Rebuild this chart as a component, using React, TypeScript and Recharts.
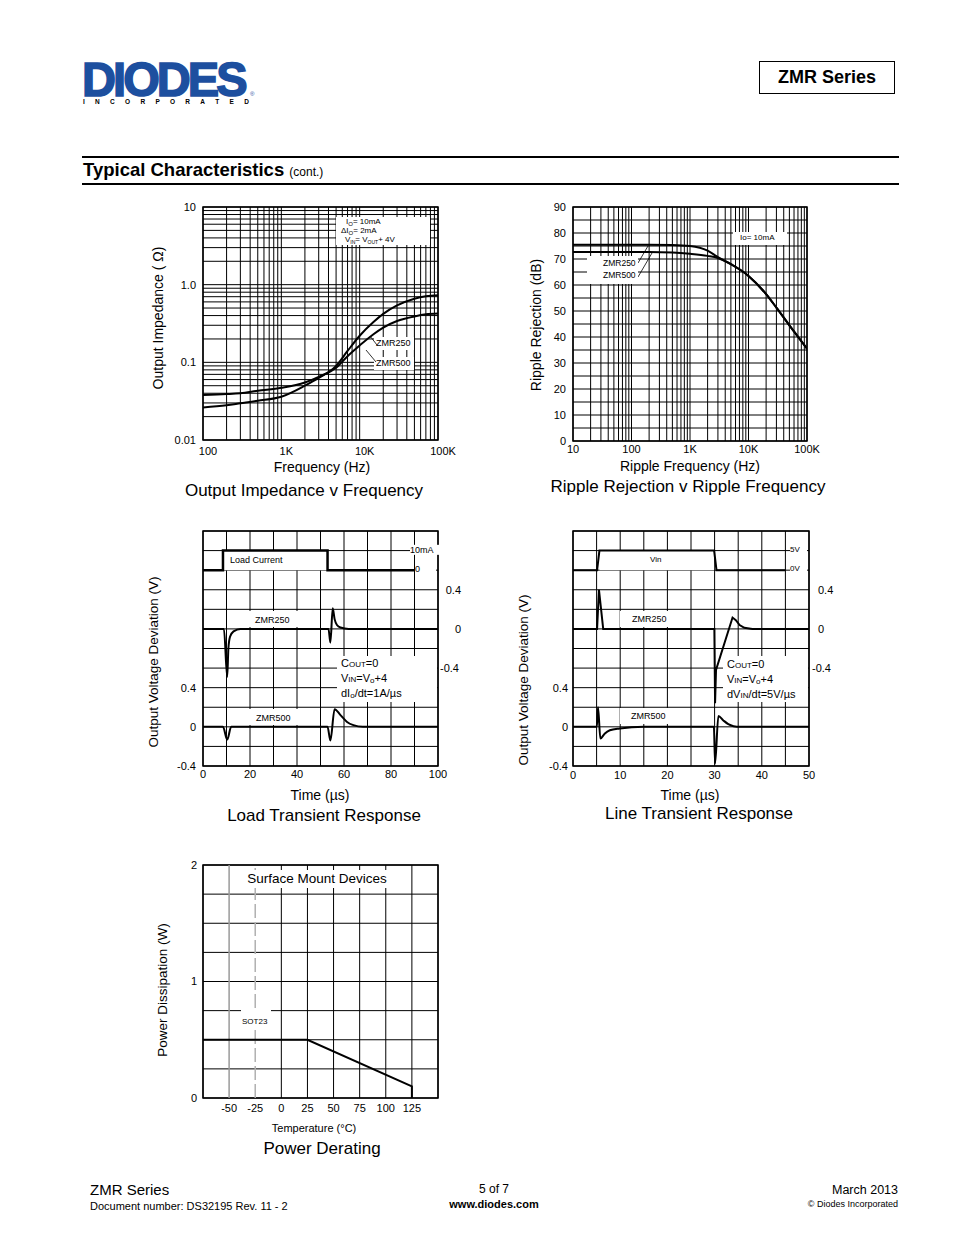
import React from 'react';
import { LineChart, Line, XAxis, YAxis, CartesianGrid, ReferenceArea, ReferenceLine } from 'recharts';

const FONT = '"Liberation Sans", Arial, Helvetica, sans-serif';

// Output impedance v frequency
const impFreq = [100, 200, 300, 500, 1000, 2000, 3000, 5000, 7000, 10000, 15000, 20000, 30000, 50000, 70000, 100000];
const impZmr250 = [0.0263, 0.028, 0.0297, 0.032, 0.036, 0.05, 0.063, 0.09, 0.14, 0.22, 0.33, 0.42, 0.54, 0.66, 0.71, 0.73];
const impZmr500 = [0.038, 0.039, 0.04, 0.043, 0.047, 0.055, 0.065, 0.085, 0.12, 0.165, 0.23, 0.28, 0.34, 0.39, 0.415, 0.425];
const impXTicks = [100, 1000, 10000, 100000];
const impXLabels = ['100', '1K', '10K', '100K'];
const impYTicks = [0.01, 0.1, 1, 10];
const impYLabels = ['0.01', '0.1', '1.0', '10'];

// Ripple rejection v ripple frequency
const ripFreq = [10, 20, 50, 100, 200, 500, 1000, 2000, 3000, 5000, 10000, 20000, 30000, 50000, 100000];
const ripZmr250 = [75.5, 75.5, 75.5, 75.5, 75.5, 75.4, 75, 73.2, 70.7, 68, 63.5, 56.5, 51.3, 44.5, 35.5];
const ripZmr500 = [72.7, 72.7, 72.7, 72.7, 72.7, 72.5, 72, 71.2, 70.4, 68, 63.5, 56.5, 51.3, 44.5, 35.5];
const ripXTicks = [10, 100, 1000, 10000, 100000];
const ripXLabels = ['10', '100', '1K', '10K', '100K'];
const ripYTicks = [0, 10, 20, 30, 40, 50, 60, 70, 80, 90];
const ripGridY = [0, 5, 10, 15, 20, 25, 30, 35, 40, 45, 50, 55, 60, 65, 70, 75, 80, 85, 90];

// Load transient response
const loadTime = [0, 8.5, 8.5, 53, 53, 90];
const loadCurrent = [0, 0, 10, 10, 0, 0];
const loadT250 = [0, 8.9, 10.3, 10.8, 11.5, 13, 16, 53.4, 54.2, 55.2, 56, 57, 58.5, 62, 100];
const loadV250 = [0, 0, -0.49, -0.2, -0.08, -0.025, 0, 0, -0.14, 0.21, 0.1, 0.04, 0.014, 0, 0];
const loadT500 = [0, 8.5, 10.3, 12, 53, 54.2, 56, 58.5, 61.3, 64, 68, 100];
const loadV500 = [0, 0, -0.13, 0, 0, -0.14, 0.18, 0.12, 0.05, 0.017, 0, 0];
const loadXTicks = [0, 20, 40, 60, 80, 100];
const loadCols = [0, 10, 20, 30, 40, 50, 60, 70, 80, 90, 100];

// Line transient response
const lineTime = [0, 5.1, 5.6, 29.9, 30.4, 45];
const lineVin = [0, 0, 5, 5, 0, 0];
const lineT250 = [0, 5.1, 5.5, 6.4, 29.95, 30.1, 30.3, 33.8, 34.5, 35.3, 36.3, 38, 50];
const lineV250 = [0, 0, 0.4, 0, 0, -0.76, -0.42, 0.116, 0.09, 0.04, 0.012, 0, 0];
const lineT500 = [0, 5.05, 5.3, 5.8, 6.7, 7.8, 9.9, 15, 29.85, 30.1, 30.8, 31.8, 32.9, 34, 35.4, 50];
const lineV500 = [0, 0, 0.2, -0.12, -0.07, -0.035, -0.017, 0, 0, -0.375, 0.11, 0.068, 0.027, 0.007, 0, 0];
const lineXTicks = [0, 10, 20, 30, 40, 50];
const lineCols = [0, 5, 10, 15, 20, 25, 30, 35, 40, 45, 50];

// shared transient grid rows (left axis units) and deviation ticks
const rowVals = [-0.4, -0.2, 0, 0.2, 0.4, 0.6, 0.8, 1, 1.2, 1.4, 1.6, 1.8, 2];
const devTicks = [-0.4, 0, 0.4];

// Power derating
const pdTemp = [-75, 25, 125, 125];
const pdSot23 = [0.5, 0.5, 0.1, 0];
const pdXTicks = [-50, -25, 0, 25, 50, 75, 100, 125];
const pdYTicks = [0, 1, 2];
const pdGridX = [-75, 0, 25, 50, 75, 100, 125, 150];
const pdGridY = [0, 0.25, 0.5, 0.75, 1, 1.25, 1.5, 1.75, 2];

const logGrid = (from: number, to: number) => {
  const out: number[] = [];
  for (let d = from; d < to; d *= 10) for (let k = 1; k < 10; k++) out.push(+(d * k).toPrecision(3));
  out.push(to);
  return out;
};
const impGridX = logGrid(100, 100000);
const impGridY = logGrid(0.01, 10);
const ripGridX = logGrid(10, 100000);

const pts = (xs: number[], ys: number[]) => xs.map((x, i) => ({ x, y: ys[i] }));

const lbl = (ticks: number[], labels: string[] | undefined, v: number) => {
  if (!labels) return String(v);
  const i = ticks.indexOf(v);
  return i >= 0 ? labels[i] : String(v);
};

const xTick = (ticks: number[], labels?: string[], dx = 0) => (p: any) => (
  <text x={p.x + dx} y={p.y} dy="0.71em" textAnchor="middle" fontSize={11} fontFamily={FONT} fill="#000">
    {lbl(ticks, labels, p.payload.value)}
  </text>
);

const yTick = (ticks: number[], labels?: string[]) => (p: any) => (
  <text x={p.x} y={p.y} dy="0.36em" textAnchor="end" fontSize={11} fontFamily={FONT} fill="#000">
    {lbl(ticks, labels, p.payload.value)}
  </text>
);

const rightTick = (anchor: 'start' | 'end', dx: number, negDx: number) => (p: any) => (
  <text x={p.x + (p.payload.value < 0 ? negDx : dx)} y={p.y} dy="0.36em" textAnchor={anchor} fontSize={11} fontFamily={FONT} fill="#000">
    {p.payload.value}
  </text>
);

const Txt = ({ x, y, size = 11, bold = false, anchor = 'middle', rotate = false, bg = false, pad = 0, children }: any) => {
  const tx = anchor === 'middle' ? '-50%' : anchor === 'end' ? '-100%' : '0';
  return (
    <div
      style={{
        position: 'absolute',
        left: x,
        top: y,
        transform: `translate(${tx}, -50%)${rotate ? ' rotate(-90deg)' : ''}`,
        fontSize: size,
        fontWeight: bold ? 700 : 400,
        lineHeight: 1.15,
        whiteSpace: 'nowrap',
        background: bg ? '#fff' : 'transparent',
        paddingRight: pad,
        color: '#000',
      }}
    >
      {children}
    </div>
  );
};

const Box = ({ x, y, w, h }: any) => (
  <div style={{ position: 'absolute', left: x, top: y, width: w, height: h, background: '#fff' }} />
);

const Small = ({ children, size = 8, low = 0 }: any) => (
  <span style={{ fontSize: size, position: 'relative', top: low }}>{children}</span>
);

const seriesProps = { stroke: '#000', dot: false, isAnimationActive: false } as const;

function ImpedanceChart() {
  return (
    <div style={{ position: 'absolute', left: 140, top: 195 }}>
      <LineChart width={320} height={270} margin={{ top: 12, right: 22, bottom: 0, left: 13 }}>
        <CartesianGrid stroke="#000" strokeWidth={1} horizontalValues={impGridY} verticalValues={impGridX} />
        <XAxis dataKey="x" type="number" scale="log" domain={[100, 100000]} allowDataOverflow ticks={impXTicks} interval={0}
          height={25} tickSize={0} tickMargin={7} axisLine={false} tickLine={false} tick={xTick(impXTicks, impXLabels, 5)} />
        <YAxis type="number" scale="log" domain={[0.01, 10]} allowDataOverflow ticks={impYTicks} interval={0}
          width={50} tickSize={0} tickMargin={7} axisLine={false} tickLine={false} tick={yTick(impYTicks, impYLabels)} />
        <ReferenceArea x1={100} x2={100000} y1={0.01} y2={10} fill="none" stroke="#000" strokeWidth={1.5} />
        <Line data={pts(impFreq, impZmr250)} dataKey="y" type="monotone" strokeWidth={2} {...seriesProps} />
        <Line data={pts(impFreq, impZmr500)} dataKey="y" type="monotone" strokeWidth={2} {...seriesProps} />
      </LineChart>
    </div>
  );
}

function RippleChart() {
  return (
    <div style={{ position: 'absolute', left: 510, top: 195 }}>
      <LineChart width={320} height={270} margin={{ top: 12, right: 23, bottom: 0, left: 13 }}>
        <CartesianGrid stroke="#000" strokeWidth={1} horizontalValues={ripGridY} verticalValues={ripGridX} />
        <XAxis dataKey="x" type="number" scale="log" domain={[10, 100000]} allowDataOverflow ticks={ripXTicks} interval={0}
          height={24} tickSize={0} tickMargin={4} axisLine={false} tickLine={false} tick={xTick(ripXTicks, ripXLabels)} />
        <YAxis type="number" domain={[0, 90]} allowDataOverflow ticks={ripYTicks} interval={0}
          width={50} tickSize={0} tickMargin={7} axisLine={false} tickLine={false} tick={yTick(ripYTicks)} />
        <ReferenceArea x1={10} x2={100000} y1={0} y2={90} fill="none" stroke="#000" strokeWidth={1.5} />
        <Line data={pts(ripFreq, ripZmr250)} dataKey="y" type="monotone" strokeWidth={2} {...seriesProps} />
        <Line data={pts(ripFreq, ripZmr500)} dataKey="y" type="monotone" strokeWidth={2} {...seriesProps} />
      </LineChart>
    </div>
  );
}

function LoadChart() {
  return (
    <div style={{ position: 'absolute', left: 140, top: 520 }}>
      <LineChart width={340} height={275} margin={{ top: 11, right: 12, bottom: 5, left: 13 }}>
        <CartesianGrid yAxisId="l" stroke="#000" strokeWidth={1} horizontalValues={rowVals} verticalValues={loadCols} />
        <XAxis dataKey="x" type="number" domain={[0, 100]} allowDataOverflow ticks={loadXTicks} interval={0}
          height={24} tickSize={0} tickMargin={4} axisLine={false} tickLine={false} tick={xTick(loadXTicks)} />
        <YAxis yAxisId="l" type="number" domain={[-0.4, 2]} allowDataOverflow ticks={devTicks} interval={0}
          width={50} tickSize={0} tickMargin={7} axisLine={false} tickLine={false} tick={yTick(devTicks)} />
        <YAxis yAxisId="r" orientation="right" type="number" domain={[-1.4, 1]} allowDataOverflow ticks={devTicks} interval={0}
          width={30} tickSize={0} tickMargin={0} axisLine={false} tickLine={false} tick={rightTick('end', 23, 21)} />
        <YAxis yAxisId="zcur" type="number" domain={[-100, 20]} allowDataOverflow hide width={0} />
        <ReferenceArea yAxisId="zcur" x1={8.5} x2={53} y1={0} y2={10} fill="#fff" fillOpacity={1} stroke="none" />
        <ReferenceArea yAxisId="l" x1={0} x2={100} y1={-0.4} y2={2} fill="none" stroke="#000" strokeWidth={1.5} />
        <Line yAxisId="zcur" data={pts(loadTime, loadCurrent)} dataKey="y" type="linear" strokeWidth={2.5} {...seriesProps} />
        <Line yAxisId="r" data={pts(loadT250, loadV250)} dataKey="y" type="monotone" strokeWidth={2} {...seriesProps} />
        <Line yAxisId="l" data={pts(loadT500, loadV500)} dataKey="y" type="monotone" strokeWidth={2} {...seriesProps} />
      </LineChart>
    </div>
  );
}

function LineTransientChart() {
  return (
    <div style={{ position: 'absolute', left: 510, top: 520 }}>
      <LineChart width={340} height={275} margin={{ top: 11, right: 11, bottom: 5, left: 13 }}>
        <CartesianGrid yAxisId="l" stroke="#000" strokeWidth={1} horizontalValues={rowVals} verticalValues={lineCols} />
        <XAxis dataKey="x" type="number" domain={[0, 50]} allowDataOverflow ticks={lineXTicks} interval={0}
          height={24} tickSize={0} tickMargin={5} axisLine={false} tickLine={false} tick={xTick(lineXTicks)} />
        <YAxis yAxisId="l" type="number" domain={[-0.4, 2]} allowDataOverflow ticks={devTicks} interval={0}
          width={50} tickSize={0} tickMargin={5} axisLine={false} tickLine={false} tick={yTick(devTicks)} />
        <YAxis yAxisId="r" orientation="right" type="number" domain={[-1.4, 1]} allowDataOverflow ticks={devTicks} interval={0}
          width={30} tickSize={0} tickMargin={0} axisLine={false} tickLine={false} tick={rightTick('start', 9, 3)} />
        <YAxis yAxisId="zvin" type="number" domain={[-50, 10]} allowDataOverflow hide width={0} />
        <ReferenceArea yAxisId="zvin" x1={5.6} x2={29.9} y1={0} y2={5} fill="#fff" fillOpacity={1} stroke="none" />
        <ReferenceArea yAxisId="l" x1={0} x2={50} y1={-0.4} y2={2} fill="none" stroke="#000" strokeWidth={1.5} />
        <Line yAxisId="zvin" data={pts(lineTime, lineVin)} dataKey="y" type="linear" strokeWidth={2} {...seriesProps} />
        <Line yAxisId="r" data={pts(lineT250, lineV250)} dataKey="y" type="linear" strokeWidth={2} {...seriesProps} />
        <Line yAxisId="l" data={pts(lineT500, lineV500)} dataKey="y" type="monotone" strokeWidth={2} {...seriesProps} />
      </LineChart>
    </div>
  );
}

function DeratingChart() {
  return (
    <div style={{ position: 'absolute', left: 140, top: 855 }}>
      <LineChart width={320} height={270} margin={{ top: 10, right: 22, bottom: 3, left: 13 }}>
        <CartesianGrid stroke="#000" strokeWidth={1} horizontalValues={pdGridY} verticalValues={pdGridX} />
        <ReferenceLine x={-50} stroke="#9a9a9a" strokeWidth={1.5} />
        <ReferenceLine x={-25} stroke="#b0b0b0" strokeWidth={1.5} strokeDasharray="14 4" />
        <XAxis dataKey="x" type="number" domain={[-75, 150]} allowDataOverflow ticks={pdXTicks} interval={0}
          height={24} tickSize={0} tickMargin={6} axisLine={false} tickLine={false} tick={xTick(pdXTicks)} />
        <YAxis type="number" domain={[0, 2]} allowDataOverflow ticks={pdYTicks} interval={0}
          width={50} tickSize={0} tickMargin={6} axisLine={false} tickLine={false} tick={yTick(pdYTicks)} />
        <ReferenceArea x1={-75} x2={150} y1={0} y2={2} fill="none" stroke="#000" strokeWidth={1.5} />
        <Line data={pts(pdTemp, pdSot23)} dataKey="y" type="linear" strokeWidth={2} {...seriesProps} />
      </LineChart>
    </div>
  );
}

export default function App() {
  return (
    <div style={{ position: 'absolute', left: 0, top: 0, width: 954, height: 1235, background: '#fff', overflow: 'hidden', fontFamily: FONT }}>
      {/* header */}
      <div style={{ position: 'absolute', left: 82, top: 62, height: 36, fontSize: 48, fontWeight: 900, color: '#1d4f9f', WebkitTextStroke: '1.6px #1d4f9f', letterSpacing: -3, transform: 'scale(0.98, 1)', transformOrigin: 'left top', lineHeight: '36px', whiteSpace: 'nowrap' }}>
        DIODES
      </div>
      <div style={{ position: 'absolute', left: 250, top: 91, fontSize: 6, lineHeight: 1, color: '#1d4f9f' }}>®</div>
      <div style={{ position: 'absolute', left: 83, top: 99, width: 166, height: 7, display: 'flex', justifyContent: 'space-between', fontSize: 6.5, lineHeight: 1, fontWeight: 700 }}>
        {'INCORPORATED'.split('').map((c, i) => <span key={i}>{c}</span>)}
      </div>
      <div style={{ position: 'absolute', left: 759, top: 61, width: 134, height: 31, border: '1.5px solid #000', display: 'flex', alignItems: 'center', justifyContent: 'center', fontSize: 18, fontWeight: 700 }}>
        ZMR Series
      </div>
      <div style={{ position: 'absolute', left: 82, top: 156, width: 817, height: 2, background: '#000' }} />
      <div style={{ position: 'absolute', left: 82, top: 183, width: 817, height: 1.5, background: '#000' }} />
      <Txt x={83} y={170} size={18.5} bold anchor="start">
        Typical Characteristics <span style={{ fontSize: 12, fontWeight: 400 }}>(cont.)</span>
      </Txt>

      <ImpedanceChart />
      <RippleChart />
      <LoadChart />
      <LineTransientChart />
      <DeratingChart />

      {/* impedance annotations */}
      <Box x={336} y={217} w={94} h={28} />
      <Txt x={346} y={222} size={8} anchor="start">I<Small size={6} low={2}>O</Small>= 10mA</Txt>
      <Txt x={341} y={231} size={8} anchor="start">ΔI<Small size={6} low={2}>O</Small>= 2mA</Txt>
      <Txt x={345} y={240} size={8} anchor="start">V<Small size={5} low={2}>IN</Small>= V<Small size={5} low={2}>OUT</Small>+ 4V</Txt>
      <Box x={374} y={337} w={40} h={13} />
      <Txt x={376} y={343} size={9} anchor="start">ZMR250</Txt>
      <Box x={374} y={357} w={40} h={13} />
      <Txt x={376} y={363} size={9} anchor="start">ZMR500</Txt>
      <svg style={{ position: 'absolute', left: 0, top: 0 }} width={954} height={1235}>
        <line x1={377} y1={345} x2={370} y2={336} stroke="#000" strokeWidth={0.8} />
        <line x1={376} y1={362} x2={366} y2={350} stroke="#000" strokeWidth={0.8} />
        <line x1={638} y1={263} x2={648} y2={246} stroke="#000" strokeWidth={0.8} />
        <line x1={638} y1={277} x2={652} y2={253} stroke="#000" strokeWidth={0.8} />
      </svg>
      <Txt x={322} y={467} size={14}>Frequency (Hz)</Txt>
      <Txt x={158} y={318} size={14} rotate>Output Impedance ( Ω)</Txt>
      <Txt x={304} y={491} size={17}>Output Impedance v Frequency</Txt>

      {/* ripple annotations */}
      <Box x={733} y={232} w={54} h={13} />
      <Txt x={740} y={238} size={8} anchor="start">Io= 10mA</Txt>
      <Box x={587} y={256} w={51} h={28} />
      <Txt x={603} y={264} size={8.5} anchor="start">ZMR250</Txt>
      <Txt x={603} y={276} size={8.5} anchor="start">ZMR500</Txt>
      <Txt x={690} y={466} size={14}>Ripple Frequency (Hz)</Txt>
      <Txt x={536} y={325} size={14} rotate>Ripple Rejection (dB)</Txt>
      <Txt x={688} y={487} size={17}>Ripple Rejection v Ripple Frequency</Txt>

      {/* load transient annotations */}
      <Txt x={230} y={560} size={9} anchor="start">Load Current</Txt>
      <Txt x={410} y={550} size={9} anchor="start" bg pad={5}>10mA</Txt>
      <Txt x={415} y={569} size={9} anchor="start" bg pad={16}>0</Txt>
      <Box x={243} y={611} w={63} h={16} />
      <Txt x={255} y={620} size={9} anchor="start">ZMR250</Txt>
      <Box x={243} y={709} w={63} h={16} />
      <Txt x={256} y={718} size={9} anchor="start">ZMR500</Txt>
      <Box x={337} y={656} w={100} h={46} />
      <Txt x={341} y={663} size={11} anchor="start">C<Small size={8}>OUT</Small>=0</Txt>
      <Txt x={341} y={678} size={11} anchor="start">V<Small size={8}>IN</Small>=V<Small size={8} low={1}>o</Small>+4</Txt>
      <Txt x={341} y={693} size={11} anchor="start">dI<Small size={8} low={1}>o</Small>/dt=1A/µs</Txt>
      <Txt x={320} y={795} size={14}>Time (µs)</Txt>
      <Txt x={154} y={662} size={13.5} rotate>Output Voltage Deviation (V)</Txt>
      <Txt x={324} y={816} size={17}>Load Transient Response</Txt>

      {/* line transient annotations */}
      <Txt x={650} y={560} size={8} anchor="start">Vin</Txt>
      <Txt x={790} y={550} size={8} anchor="start" bg pad={7}>5V</Txt>
      <Txt x={790} y={569} size={8} anchor="start" bg pad={7}>0V</Txt>
      <Box x={620} y={611} w={60} h={16} />
      <Txt x={632} y={619} size={9} anchor="start">ZMR250</Txt>
      <Box x={620} y={708} w={60} h={16} />
      <Txt x={631} y={716} size={9} anchor="start">ZMR500</Txt>
      <Box x={723} y={656} w={85} h={46} />
      <Txt x={727} y={664} size={11} anchor="start">C<Small size={8}>OUT</Small>=0</Txt>
      <Txt x={727} y={679} size={11} anchor="start">V<Small size={8}>IN</Small>=V<Small size={8} low={1}>o</Small>+4</Txt>
      <Txt x={727} y={694} size={11} anchor="start">dV<Small size={8}>IN</Small>/dt=5V/µs</Txt>
      <Txt x={690} y={795} size={14}>Time (µs)</Txt>
      <Txt x={524} y={680} size={13.5} rotate>Output Voltage Deviation (V)</Txt>
      <Txt x={699} y={814} size={17}>Line Transient Response</Txt>

      {/* derating annotations */}
      <Box x={241} y={870} w={156} h={18} />
      <Txt x={317} y={879} size={13.5}>Surface Mount Devices</Txt>
      <Box x={241} y={1009} w={30} h={21} />
      <Txt x={242} y={1022} size={8} anchor="start">SOT23</Txt>
      <Txt x={314} y={1128} size={11}>Temperature (°C)</Txt>
      <Txt x={163} y={990} size={13.5} rotate>Power Dissipation (W)</Txt>
      <Txt x={322} y={1149} size={17}>Power Derating</Txt>

      {/* footer */}
      <Txt x={90} y={1190} size={15} anchor="start">ZMR Series</Txt>
      <Txt x={90} y={1206} size={11} anchor="start">Document number: DS32195 Rev. 11 - 2</Txt>
      <Txt x={494} y={1190} size={12}>5 of 7</Txt>
      <Txt x={494} y={1204} size={11} bold>www.diodes.com</Txt>
      <Txt x={898} y={1190} size={12.5} anchor="end">March 2013</Txt>
      <Txt x={898} y={1204} size={9} anchor="end">© Diodes Incorporated</Txt>
    </div>
  );
}
